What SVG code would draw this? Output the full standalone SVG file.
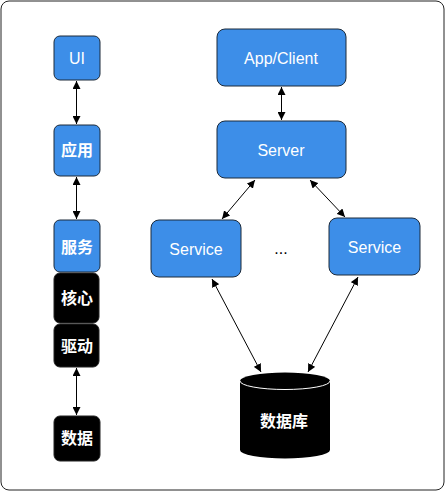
<svg xmlns="http://www.w3.org/2000/svg" width="445" height="491" viewBox="0 0 445 491">
<defs>
<marker id="ah" viewBox="0 0 10 10" refX="10" refY="5" markerWidth="8" markerHeight="8" markerUnits="userSpaceOnUse" orient="auto-start-reverse">
<path d="M0,0 L10,5 L0,10 z" fill="#000"/>
</marker>
<style>
.blue{fill:#3d8ee8;stroke:#1c2a3a;stroke-width:1}
.black{fill:#000;stroke:#222;stroke-width:1}
.t{font-family:"Liberation Sans","Noto Sans CJK SC",sans-serif;font-size:16px;fill:#fff;text-anchor:middle}
.c{font-family:"Noto Sans CJK SC",sans-serif;font-size:16px;font-weight:bold;fill:#fff;text-anchor:middle}
.conn line{stroke:#000;stroke-width:1;marker-start:url(#ah);marker-end:url(#ah)}
</style>
</defs>
<rect x="1" y="1" width="443" height="489" rx="8" fill="#fff" stroke="#222" stroke-width="1"/>
<g id="ui"><rect class="blue" x="54" y="36" width="46" height="44" rx="6"/><text class="t" x="77" y="64">UI</text></g>
<g id="app"><rect class="blue" x="54" y="125" width="46" height="51" rx="6"/><text class="c" x="77" y="156">应用</text></g>
<g id="svc"><rect class="blue" x="54" y="220" width="46" height="52" rx="6"/><text class="c" x="77" y="253">服务</text></g>
<g id="core"><rect class="black" x="54" y="273" width="45" height="50" rx="6"/><text class="c" x="77" y="304">核心</text></g>
<g id="drv"><rect class="black" x="54" y="324" width="45" height="43" rx="6"/><text class="c" x="77" y="352">驱动</text></g>
<g id="data"><rect class="black" x="54" y="416" width="46" height="45" rx="6"/><text class="c" x="77" y="444">数据</text></g>
<g id="client"><rect class="blue" x="217" y="29" width="129" height="57" rx="8"/><text class="t" x="281" y="63.5">App/Client</text></g>
<g id="server"><rect class="blue" x="217" y="121" width="129" height="57" rx="8"/><text class="t" x="281" y="156">Server</text></g>
<g id="service1"><rect class="blue" x="151" y="220" width="90" height="57" rx="8"/><text class="t" x="196" y="255">Service</text></g>
<g id="service2"><rect class="blue" x="329" y="218" width="91" height="57" rx="8"/><text class="t" x="374.5" y="253">Service</text></g>
<g id="dots"><text class="t" x="281" y="254" style="fill:#000">...</text></g>
<g id="db">
<path d="M240,381 A45,8.5 0 0 1 330,381 L330,450 A45,8.5 0 0 1 240,450 Z" fill="#000"/>
<path d="M240,381 A45,8.5 0 0 0 330,381" fill="none" stroke="#fff" stroke-width="1"/>
<text class="c" x="284" y="427">数据库</text>
</g>
<g class="conn">
<line x1="76.5" y1="81" x2="76.5" y2="124"/>
<line x1="76.5" y1="177" x2="76.5" y2="219"/>
<line x1="76.5" y1="368" x2="76.5" y2="415"/>
<line x1="281.5" y1="87" x2="281.5" y2="120"/>
<line x1="255" y1="180" x2="222" y2="219"/>
<line x1="310" y1="180" x2="345" y2="217"/>
<line x1="212" y1="279" x2="261" y2="372"/>
<line x1="358" y1="277" x2="308" y2="372"/>
</g>
</svg>
